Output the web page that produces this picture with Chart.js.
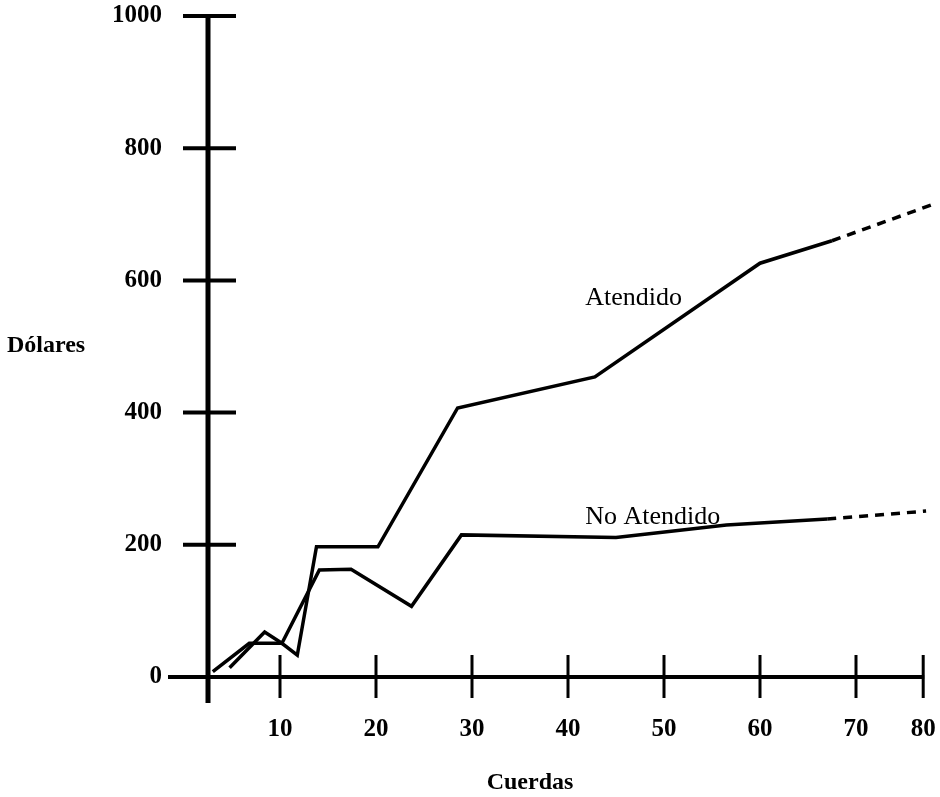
<!DOCTYPE html>
<html>
<head>
<meta charset="utf-8">
<script src="https://cdn.jsdelivr.net/npm/chart.js@4.4.1/dist/chart.umd.min.js"></script>
<style>
  html, body { margin: 0; padding: 0; background: #fff; }
  #wrap { width: 940px; height: 797px; position: relative; }
</style>
</head>
<body>
<div id="wrap"><canvas id="myLineChart"></canvas></div>
<script>
// values (x = cuerdas, y = dolares)
var atendidoX = [3.0, 6.8, 10.2, 11.8, 13.8, 20.2, 28.5, 42.8, 60.0, 67.5, 78.4];
var atendidoY = [8, 51, 51, 33, 197, 197, 407, 454, 626, 660, 717];
var atendidoDashFrom = 9;

var noAtendidoX = [4.75, 8.4, 10.2, 14.1, 17.4, 23.7, 28.9, 45.0, 56.5, 67.0, 77.3];
var noAtendidoY = [14, 68, 51, 162, 163, 107, 215, 211, 230, 239, 251];
var noAtendidoDashFrom = 9;

var xTickValues = [10, 20, 30, 40, 50, 60, 70, 77];
var xTickLabels = ['10', '20', '30', '40', '50', '60', '70', '80'];
var yTickValues = [0, 200, 400, 600, 800, 1000];

var seriesNames = ['Atendido', 'No Atendido'];
var seriesLabelAt = [[41.8, 563], [41.8, 231.5]];

var yAxisAt = 2.5;   // the vertical axis crosses here
var serif = '"Liberation Serif", "Times New Roman", serif';

function toPoints(xs, ys){
    var pts = [];
    for (var i = 0; i < xs.length; i++) pts.push({x: xs[i], y: ys[i]});
    return pts;
}

function dashAfter(n){
    return function(c){ return c.p0DataIndex >= n ? [9, 7] : undefined; };
}

// axes drawn by hand, like in the original sheet
var handAxes = {
    id: 'handAxes',
    beforeDatasetsDraw: function(chart){
        var ctx = chart.ctx, x = chart.scales.x, y = chart.scales.y;
        var ax = x.getPixelForValue(yAxisAt);
        var ay = y.getPixelForValue(0);
        function seg(x1, y1, x2, y2){
            ctx.beginPath(); ctx.moveTo(x1, y1); ctx.lineTo(x2, y2); ctx.stroke();
        }
        ctx.save();
        ctx.strokeStyle = '#000';
        ctx.lineWidth = 5;
        seg(ax, y.getPixelForValue(1000) - 2, ax, ay + 26);
        ctx.lineWidth = 4;
        seg(ax - 40, ay, x.getPixelForValue(xTickValues[xTickValues.length - 1]) + 1, ay);
        yTickValues.forEach(function(v){
            if (v === 0) return;
            var py = y.getPixelForValue(v);
            seg(ax - 25, py, ax + 28, py);
        });
        ctx.lineWidth = 3;
        xTickValues.forEach(function(v){
            var px = x.getPixelForValue(v);
            seg(px, ay - 22, px, ay + 21);
        });
        ctx.restore();
    },
    afterDraw: function(chart){
        var ctx = chart.ctx, x = chart.scales.x, y = chart.scales.y;
        ctx.save();
        ctx.fillStyle = '#000';
        ctx.textAlign = 'left';
        ctx.textBaseline = 'alphabetic';
        ctx.font = '26px ' + serif;
        seriesNames.forEach(function(name, i){
            ctx.fillText(name, x.getPixelForValue(seriesLabelAt[i][0]), y.getPixelForValue(seriesLabelAt[i][1]));
        });
        ctx.font = 'bold 24px ' + serif;
        ctx.fillText('Dólares', 7, 352);
        ctx.textAlign = 'center';
        ctx.fillText('Cuerdas', 530, 789);
        ctx.restore();
    }
};

function chart(){
    var data = {
        datasets: [
            {
                label: seriesNames[0],
                data: toPoints(atendidoX, atendidoY),
                borderColor: '#000',
                borderWidth: 3.5,
                pointRadius: 0,
                fill: false,
                tension: 0,
                segment: { borderDash: dashAfter(atendidoDashFrom) }
            },
            {
                label: seriesNames[1],
                data: toPoints(noAtendidoX, noAtendidoY),
                borderColor: '#000',
                borderWidth: 3.5,
                pointRadius: 0,
                fill: false,
                tension: 0,
                segment: { borderDash: dashAfter(noAtendidoDashFrom) }
            }
        ]
    };

    var ctx = document.getElementById('myLineChart');
    var myLineChart = new Chart(ctx, {
        type: 'line',
        data: data,
        plugins: [handAxes],
        options: {
            responsive: true,
            maintainAspectRatio: false,
            animation: false,
            layout: { padding: { top: 16, left: 0, right: 0, bottom: 0 } },
            plugins: { legend: { display: false }, tooltip: { enabled: false } },
            scales: {
                x: {
                    type: 'linear',
                    min: 0,
                    max: 78.75,
                    grid: { display: true, drawOnChartArea: false, drawTicks: true, tickLength: 38, color: 'rgba(0,0,0,0)' },
                    border: { display: false },
                    afterBuildTicks: function(s){ s.ticks = xTickValues.map(function(v){ return {value: v}; }); },
                    afterFit: function(s){ s.height = 120; },
                    ticks: {
                        autoSkip: false,
                        maxRotation: 0,
                        padding: 0,
                        color: '#000',
                        font: { family: serif, size: 25, weight: 'bold' },
                        callback: function(v, i){ return xTickLabels[i]; }
                    }
                },
                y: {
                    min: 0,
                    max: 1000,
                    grid: { display: true, drawOnChartArea: false, drawTicks: true, tickLength: 22, color: 'rgba(0,0,0,0)' },
                    border: { display: false },
                    afterBuildTicks: function(s){ s.ticks = yTickValues.map(function(v){ return {value: v}; }); },
                    afterFit: function(s){ s.width = 184; },
                    ticks: {
                        padding: 0,
                        color: '#000',
                        font: { family: serif, size: 25, weight: 'bold' },
                        callback: function(v){ return String(v); }
                    }
                }
            }
        }
    });
}

chart();
</script>
</body>
</html>
